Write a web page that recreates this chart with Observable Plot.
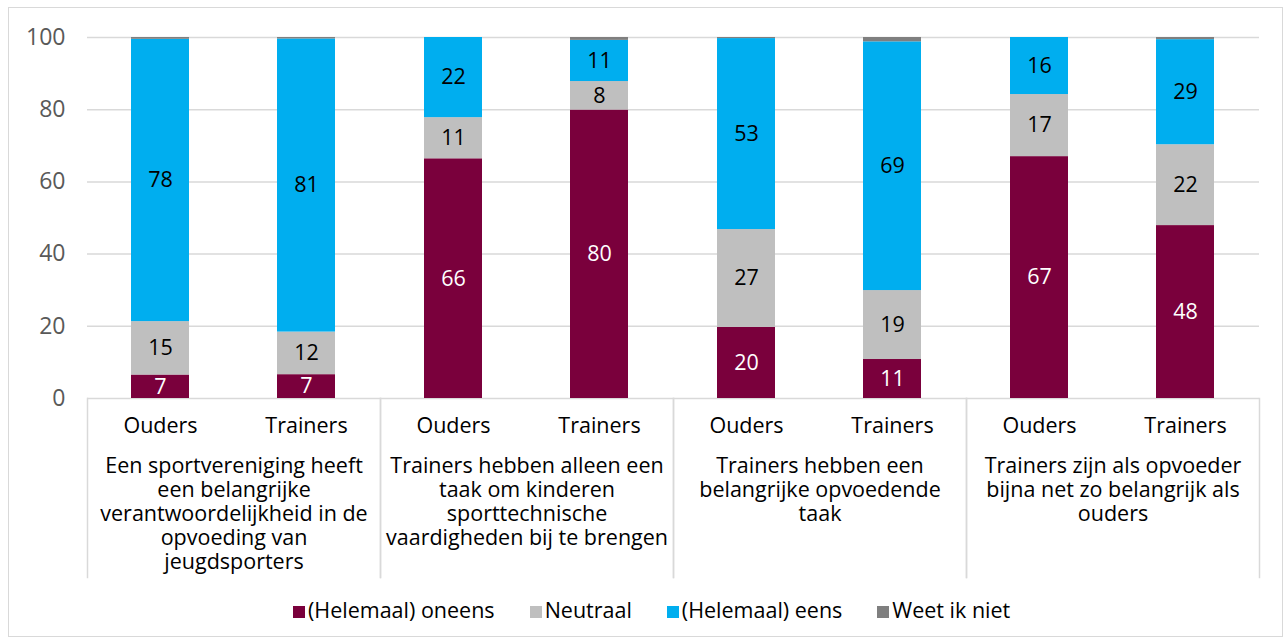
<!DOCTYPE html>
<html><head><meta charset="utf-8">
<script src="https://cdn.jsdelivr.net/npm/d3@7"></script>
<script src="https://cdn.jsdelivr.net/npm/@observablehq/plot@0.6"></script>
<style>
html,body{margin:0;padding:0;background:#fff;}
body{width:1288px;height:641px;position:relative;overflow:hidden;font-family:"Open Sans",sans-serif;}
#border{position:absolute;left:8px;top:7px;width:1275px;height:630px;border:1px solid #d9d9d9;box-sizing:border-box;}
#chart{position:absolute;left:0;top:0;}
#legend{position:absolute;left:293px;top:598px;display:flex;gap:35px;font-size:21.5px;line-height:24px;color:#000;white-space:nowrap;}
#legend .item{display:flex;align-items:center;gap:3px;}
#legend .sw{width:12px;height:12px;display:inline-block;margin-top:3px;}
</style>
</head><body>
<div id="border"></div>
<div id="chart"></div>
<div id="legend"></div>
<script>
const groups = [
  "Een sportvereniging heeft\neen belangrijke\nverantwoordelijkheid in de\nopvoeding van\njeugdsporters",
  "Trainers hebben alleen een\ntaak om kinderen\nsporttechnische\nvaardigheden bij te brengen",
  "Trainers hebben een\nbelangrijke opvoedende\ntaak",
  "Trainers zijn als opvoeder\nbijna net zo belangrijk als\nouders"
];
const respondents = ["Ouders", "Trainers"];
const answers = ["(Helemaal) oneens", "Neutraal", "(Helemaal) eens", "Weet ik niet"];
const colors = ["#7a003c", "#bfbfbf", "#00aeef", "#7f7f7f"];
// values per bar: G1 Ouders, G1 Trainers, G2 Ouders, G2 Trainers, ...
const oneens   = [6.5, 6.6, 66.4, 79.9, 19.7, 10.8, 67.0, 47.9];
const neutraal = [14.8, 11.8, 11.4, 7.9, 27.1, 19.1, 17.2, 22.4];
const eens     = [78.2, 81.2, 22.2, 11.4, 52.9, 68.9, 15.8, 29.1];
const weetniet = [0.5, 0.4, 0.0, 0.8, 0.3, 1.2, 0.0, 0.6];
const yTicks = [0, 20, 40, 60, 80, 100];

const series = [oneens, neutraal, eens, weetniet];
const rows = [];
for (let i = 0; i < 8; i++) {
  series.forEach((s, k) => rows.push({
    group: groups[Math.floor(i / 2)],
    resp: respondents[i % 2],
    answer: answers[k],
    value: s[i]
  }));
}
const font = "'Open Sans', sans-serif";
const fs = 21.5;
const stackOpts = {fx: "group", x: "resp", y: "value", z: "answer", order: answers};

const plot = Plot.plot({
  width: 1288,
  height: 590,
  marginLeft: 85,
  marginRight: 28,
  marginTop: 37,
  marginBottom: 192,
  style: {fontFamily: font, fontSize: fs + "px", background: "transparent", overflow: "visible"},
  fx: {domain: groups, padding: 0, label: null, axis: null},
  x: {domain: respondents, paddingInner: 0.6, paddingOuter: 0.3, label: null, axis: null},
  y: {domain: [0, 100], label: null, axis: null},
  color: {domain: answers, range: colors},
  marks: [
    Plot.ruleY(yTicks, {stroke: "#d9d9d9", strokeWidth: 1.5}),
    Plot.frame({anchor: "left", stroke: "#d9d9d9", strokeWidth: 1.5, insetTop: 361, insetBottom: -179}),
    Plot.frame({anchor: "right", stroke: "#d9d9d9", strokeWidth: 1.5, insetTop: 361, insetBottom: -179}),
    Plot.axisY({ticks: yTicks, tickSize: 0, tickPadding: 22, fill: "#595959", fontSize: 23, label: null}),
    Plot.barY(rows, Plot.stackY({...stackOpts, fill: "answer"})),
    Plot.text(rows, Plot.filter(d => d.answer === answers[0], Plot.stackY({...stackOpts, text: d => Math.round(d.value), fill: "white", fontSize: fs}))),
    Plot.text(rows, Plot.filter(d => d.answer === answers[1] || d.answer === answers[2], Plot.stackY({...stackOpts, text: d => Math.round(d.value), fill: "black", fontSize: fs}))),
    Plot.axisX({tickSize: 0, tickPadding: 19, fontSize: fs, fill: "#000", lineAnchor: "top", label: null}),
    Plot.axisFx({anchor: "bottom", tickSize: 0, tickPadding: 57, fontSize: fs, fill: "#000", lineAnchor: "top", lineHeight: 24 / fs, label: null, tickFormat: d => d})
  ]
});
document.getElementById("chart").appendChild(plot);

const legend = document.getElementById("legend");
answers.forEach((a, k) => {
  const item = document.createElement("div");
  item.className = "item";
  const sw = document.createElement("span");
  sw.className = "sw";
  sw.style.background = colors[k];
  const t = document.createElement("span");
  t.textContent = a;
  item.appendChild(sw); item.appendChild(t);
  legend.appendChild(item);
});
</script>
</body></html>
